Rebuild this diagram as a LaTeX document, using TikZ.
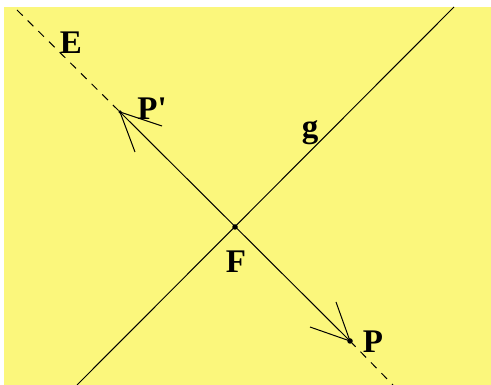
\documentclass[tikz,border=0pt]{standalone}
\usepackage{fontspec}
\setmainfont{Liberation Serif}[Ligatures=TeXOff]
\definecolor{bgyellow}{RGB}{251,247,124}
\begin{document}
\begin{tikzpicture}[x=1pt,y=-1pt,
  lbl/.style={font=\fontsize{33}{36}\selectfont\bfseries, anchor=base, inner sep=0pt},
  ln/.style={line width=1pt, black},
  dashln/.style={line width=1pt, black, dash pattern=on 8pt off 7pt},
  dotm/.style={circle, fill=black, inner sep=0pt, minimum size=#1}]
\useasboundingbox (0,0) rectangle (491,385);
\fill[white] (0,0) rectangle (491,385);
\fill[bgyellow] (4,7) rectangle (491,385);
% points
\coordinate (F) at (235,227);
\coordinate (Pp) at (120,112);
\coordinate (P) at (350,341);
\coordinate (Etop) at (17,10);
\coordinate (Ebot) at (393,385);
\coordinate (gtop) at (454,7);
\coordinate (gbot) at (77,385);
\coordinate (hPp1) at (135,152);
\coordinate (hPp2) at (162,126);
\coordinate (hP1) at (336,302);
\coordinate (hP2) at (310,327);
% line g
\draw[ln] (gbot) -- (gtop);
% line E
\draw[dashln] (Etop) -- (Pp);
\draw[dashln] (P) -- (Ebot);
\draw[ln] (Pp) -- (P);
% arrow heads
\draw[ln] (Pp) -- (hPp1);
\draw[ln] (Pp) -- (hPp2);
\draw[ln] (P) -- (hP1);
\draw[ln] (P) -- (hP2);
% dots
\node[dotm=5.5pt] (dF) at (F) {};
\node[dotm=5.5pt] (dP) at (P) {};
\node[dotm=3.5pt] (dPp) at (Pp) {};
% labels
\node[lbl] (lE) at (71,54) {E};
\node[lbl] (lPp) at (152,120) {P'};
\node[lbl] (lg) at (310,138) {g};
\node[lbl] (lF) at (236,273) {F};
\node[lbl] (lP) at (373,353) {P};
\end{tikzpicture}
\end{document}
